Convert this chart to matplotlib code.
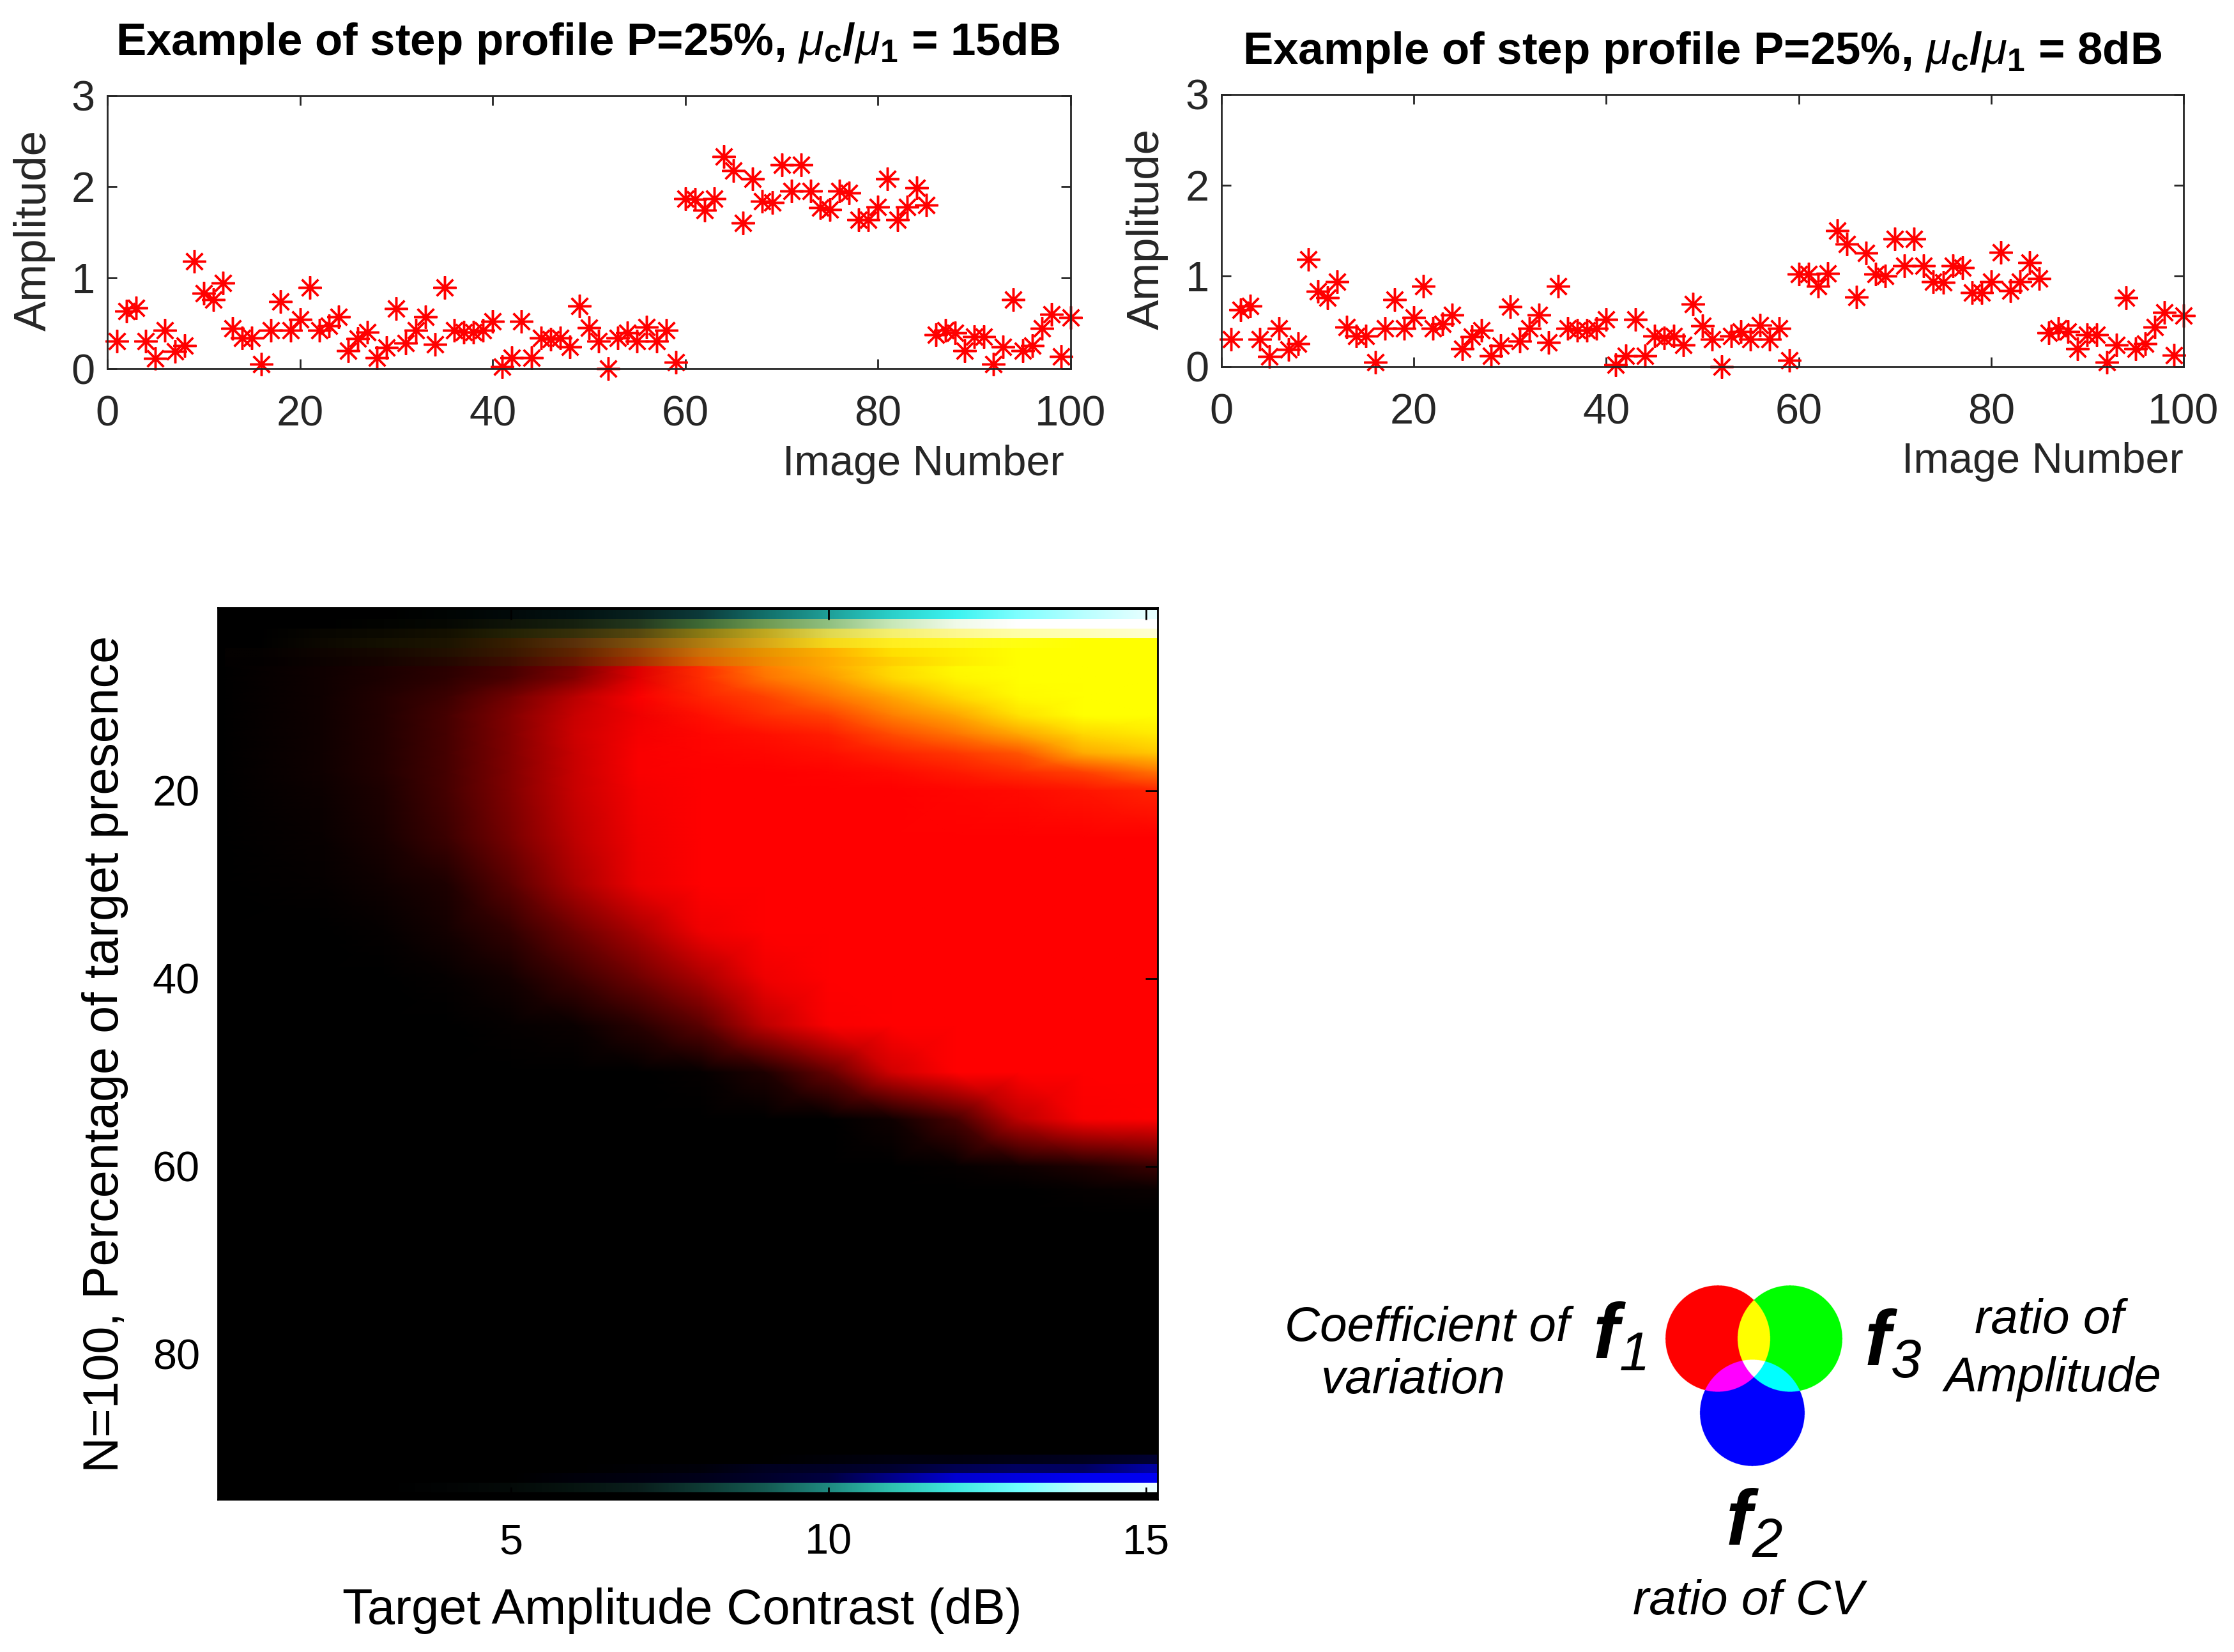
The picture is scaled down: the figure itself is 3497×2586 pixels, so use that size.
import numpy as np
import matplotlib
matplotlib.use('Agg')
import matplotlib.pyplot as plt
from matplotlib.colors import LinearSegmentedColormap, to_rgb

W, H = 3497, 2586
DARK = '#262626'

plt.rcParams['font.family'] = ['Liberation Sans', 'DejaVu Sans']
plt.rcParams['mathtext.fontset'] = 'custom'
plt.rcParams['mathtext.rm'] = 'Liberation Sans:bold'
plt.rcParams['mathtext.it'] = 'Liberation Sans:italic'
plt.rcParams['mathtext.bf'] = 'Liberation Sans:bold'
plt.rcParams['mathtext.bfit'] = 'Liberation Sans:italic:bold'
plt.rcParams['mathtext.tt'] = 'Liberation Sans:italic'

# step profiles, image 1 to 100
image_number = np.arange(1, 101)
amp_15db = [0.30, 0.63, 0.67, 0.30, 0.11, 0.42, 0.19, 0.25, 1.18, 0.83,
            0.76, 0.94, 0.44, 0.34, 0.34, 0.05, 0.42, 0.74, 0.42, 0.54,
            0.89, 0.42, 0.47, 0.57, 0.20, 0.33, 0.40, 0.12, 0.23, 0.66,
            0.28, 0.42, 0.57, 0.27, 0.89, 0.42, 0.40, 0.40, 0.42, 0.52,
            0.02, 0.12, 0.52, 0.12, 0.34, 0.32, 0.34, 0.24, 0.69, 0.45,
            0.30, 0.00, 0.34, 0.39, 0.30, 0.46, 0.30, 0.42, 0.07, 1.87,
            1.86, 1.74, 1.87, 2.33, 2.18, 1.60, 2.09, 1.84, 1.83, 2.24,
            1.95, 2.24, 1.95, 1.77, 1.75, 1.95, 1.93, 1.64, 1.64, 1.78,
            2.09, 1.64, 1.78, 1.99, 1.80, 0.37, 0.42, 0.39, 0.20, 0.35,
            0.35, 0.05, 0.24, 0.76, 0.20, 0.25, 0.44, 0.60, 0.13, 0.56]
amp_8db = [0.30, 0.63, 0.67, 0.30, 0.11, 0.42, 0.19, 0.25, 1.18, 0.83,
           0.76, 0.94, 0.44, 0.34, 0.34, 0.05, 0.42, 0.74, 0.42, 0.54,
           0.89, 0.42, 0.47, 0.57, 0.20, 0.33, 0.40, 0.12, 0.23, 0.66,
           0.28, 0.42, 0.57, 0.27, 0.89, 0.42, 0.40, 0.40, 0.42, 0.52,
           0.02, 0.12, 0.52, 0.12, 0.34, 0.32, 0.34, 0.24, 0.69, 0.45,
           0.30, 0.00, 0.34, 0.39, 0.30, 0.46, 0.30, 0.42, 0.07, 1.02,
           1.02, 0.89, 1.03, 1.50, 1.35, 0.77, 1.25, 1.02, 1.00, 1.41,
           1.11, 1.41, 1.11, 0.94, 0.93, 1.11, 1.09, 0.82, 0.82, 0.94,
           1.26, 0.84, 0.94, 1.15, 0.97, 0.37, 0.42, 0.39, 0.20, 0.35,
           0.35, 0.05, 0.24, 0.76, 0.20, 0.25, 0.44, 0.60, 0.13, 0.56]

# heat map body: red + green level (0-510) read at these contrasts and percentages
contrast_db = [0.39, 2, 3, 4, 5, 6, 7, 8, 9, 10, 11, 12, 13, 14, 15.18]
presence_pct = [6.75, 8, 10, 12, 14, 16, 18, 20, 25, 30, 35, 40, 45, 50, 55, 60, 62.5, 65]
level = [
    [0, 15, 28, 42, 70, 120, 220, 300, 380, 425, 475, 505, 510, 510, 510],
    [0, 15, 28, 45, 75, 130, 225, 300, 370, 410, 470, 500, 510, 510, 510],
    [0, 15, 35, 60, 115, 185, 250, 290, 320, 370, 420, 470, 505, 510, 510],
    [0, 15, 35, 70, 130, 200, 240, 270, 300, 320, 380, 420, 480, 510, 510],
    [0, 15, 35, 70, 130, 205, 245, 260, 270, 285, 330, 370, 420, 470, 490],
    [0, 15, 35, 70, 130, 200, 250, 258, 262, 270, 290, 310, 340, 425, 455],
    [0, 15, 35, 70, 130, 200, 250, 255, 255, 258, 265, 280, 300, 320, 370],
    [0, 12, 30, 70, 130, 200, 245, 255, 255, 255, 255, 260, 265, 275, 290],
    [0, 8, 25, 60, 120, 190, 240, 255, 255, 255, 255, 255, 255, 255, 255],
    [0, 5, 15, 30, 90, 170, 235, 255, 255, 255, 255, 255, 255, 255, 255],
    [0, 0, 5, 20, 50, 110, 170, 240, 255, 255, 255, 255, 255, 255, 255],
    [0, 0, 0, 5, 20, 60, 110, 170, 240, 255, 255, 255, 255, 255, 255],
    [0, 0, 0, 0, 5, 10, 40, 90, 190, 250, 255, 255, 255, 255, 255],
    [0, 0, 0, 0, 0, 0, 0, 5, 30, 100, 210, 255, 255, 255, 255],
    [0, 0, 0, 0, 0, 0, 0, 0, 0, 0, 15, 70, 190, 250, 255],
    [0, 0, 0, 0, 0, 0, 0, 0, 0, 0, 0, 5, 15, 30, 60],
    [0, 0, 0, 0, 0, 0, 0, 0, 0, 0, 0, 0, 0, 5, 10],
    [0, 0, 0, 0, 0, 0, 0, 0, 0, 0, 0, 0, 0, 0, 0],
]

# single rows at the edges of the map, one colour per dB from 1 to 15
row_1 = ['#000000', '#000000', '#000000', '#000503', '#020a0a', '#021212', '#08211f', '#0c3a3a',
         '#13706a', '#1f9f98', '#2bd0ca', '#3df3f0', '#80ffff', '#b8ffff', '#e6ffff']
row_2 = ['#000000', '#000000', '#030401', '#060803', '#0f1408', '#16200f', '#24381e', '#3f6a35',
         '#6f9a52', '#90c080', '#c8e8b8', '#f0fae8', '#ffffff', '#ffffff', '#ffffff']
row_3 = ['#000000', '#080600', '#0c0a00', '#141000', '#242205', '#37300a', '#56480f', '#8a7a14',
         '#c0a820', '#e0d850', '#f5f070', '#fdf890', '#ffffa8', '#ffffb8', '#ffffd0']
row_4 = ['#000000', '#0c0800', '#141000', '#1c1400', '#381e00', '#5a300a', '#80520c', '#b07c10',
         '#d8a818', '#f6d81a', '#ffee20', '#fff820', '#ffff10', '#ffff00', '#ffff00']
row_5 = ['#040100', '#0e0400', '#160800', '#221000', '#3a1800', '#602400', '#984004', '#cc7008',
         '#e89400', '#ffb000', '#ffe000', '#fff000', '#ffff00', '#ffff00', '#ffff00']
row_6 = ['#030000', '#0c0200', '#160400', '#240800', '#3e0e00', '#681800', '#a43000', '#dc6000',
         '#f08800', '#ffa800', '#ffd000', '#ffec00', '#ffff00', '#ffff00', '#ffff00']
row_91 = ['#000000', '#000000', '#000000', '#000000', '#000000', '#000000', '#000000', '#000000',
          '#000000', '#000008', '#000010', '#000010', '#000018', '#000020', '#000030']
row_92 = ['#000000', '#000000', '#000000', '#000000', '#000000', '#000000', '#000005', '#00000a',
          '#000020', '#000025', '#000030', '#000050', '#000060', '#000060', '#0000a0']
row_93 = ['#000000', '#000000', '#000000', '#000000', '#000000', '#00000a', '#000010', '#00001a',
          '#00002a', '#000040', '#00008a', '#0000d0', '#0000e0', '#0000f0', '#0000f0']
row_94 = ['#000000', '#000000', '#000000', '#020404', '#040a08', '#061410', '#0a1e1c', '#0e3a34',
          '#155a52', '#1f8a80', '#2fc2b0', '#40e8e0', '#70ffff', '#c0ffff', '#ecffff']
edge_rows = {1: row_1, 2: row_2, 3: row_3, 4: row_4, 5: row_5, 6: row_6,
             91: row_91, 92: row_92, 93: row_93, 94: row_94}


def px_rect(left, top, right, bottom):
    return [left / W, 1 - bottom / H, (right - left) / W, (bottom - top) / H]


def px_text(x, y, s, **kw):
    kw.setdefault('ha', 'center')
    kw.setdefault('va', 'center')
    fig.text(x / W, 1 - y / H, s, **kw)


fig = plt.figure(figsize=(W / 100, H / 100), dpi=100, facecolor='white')

# top panels
panels = [(amp_15db, (168, 150, 1676, 577), r'Example of step profile P=25%, $\mu_{\mathbf{c}}/\mu_{\mathbf{1}}$ = 15dB', (920, 68), (1445, 727), 114),
          (amp_8db, (1912, 148, 3418, 574), r'Example of step profile P=25%, $\mu_{\mathbf{c}}/\mu_{\mathbf{1}}$ = 8dB', (2665, 82), (3197, 723), 116)]
for amp, box, title, title_xy, xlabel_xy, ylabel_off in panels:
    ax = fig.add_axes(px_rect(*box))
    ax.plot(image_number, amp, linestyle='none', marker=(8, 2, 0), color='red',
            markersize=26, markeredgewidth=2.5, clip_on=False)
    ax.set_xlim(0, 100)
    ax.set_ylim(0, 3)
    ax.set_xticks([0, 20, 40, 60, 80, 100])
    ax.set_yticks([0, 1, 2, 3])
    ax.tick_params(direction='in', top=True, right=True, length=11, width=2, color=DARK,
                   labelsize=48, labelcolor=DARK, pad=14)
    ax.tick_params(axis='x', pad=30)
    for side in ax.spines.values():
        side.set_linewidth(2)
        side.set_color(DARK)
    px_text(title_xy[0], title_xy[1], title, fontsize=51, fontweight='bold', color='black')
    px_text(xlabel_xy[0], xlabel_xy[1], 'Image Number', fontsize=48, color=DARK)
    px_text(box[0] - ylabel_off, (box[1] + box[3]) / 2 - 3, 'Amplitude', fontsize=51, color=DARK, rotation=90)

# heat map
ax = fig.add_axes(px_rect(341, 951, 1812, 2347))
ax.set_facecolor('black')
cmap = LinearSegmentedColormap.from_list('black_red_yellow', ['#000000', '#ff0000', '#ffff00'], N=512)
ax.pcolormesh(contrast_db, presence_pct, np.array(level), shading='gouraud', cmap=cmap, vmin=0, vmax=510)
for row, colours in edge_rows.items():
    rgb = np.array([[to_rgb(c) for c in colours]])
    ax.imshow(rgb, extent=(0.5, 15.5, row + 0.75, row - 0.25), aspect='auto', interpolation='bilinear')
ax.set_xlim(0.39, 15.18)
ax.set_ylim(95.5, 0.47)
ax.set_xticks([5, 10, 15])
ax.set_yticks([20, 40, 60, 80])
ax.tick_params(direction='in', top=True, right=True, length=14, width=2, color='black',
               labelsize=48, labelcolor='black', pad=20)
ax.tick_params(axis='x', pad=27)
for side in ax.spines.values():
    side.set_linewidth(2)
    side.set_color('black')
px_text(1068, 2522, 'Target Amplitude Contrast (dB)', fontsize=56)
px_text(165, 1650, 'N=100, Percentage of target presence', fontsize=55.5, rotation=90)

# colour key: three overlapping discs mixed additively
key_box = (2590, 1990, 2900, 2310)
disc_x = [2689, 2802, 2743]
disc_y = [2096, 2096, 2212]
disc_rx = [82, 82, 82]
disc_ry = [83, 83, 83]
disc_rgb = [(1, 0, 0), (0, 1, 0), (0, 0, 1)]
key_ax = fig.add_axes(px_rect(*key_box))
gx, gy = np.meshgrid(np.linspace(key_box[0], key_box[2], 1240), np.linspace(key_box[1], key_box[3], 1280))
mix = np.zeros(gx.shape + (3,))
covered = np.zeros(gx.shape, dtype=bool)
for cx, cy, rx, ry, rgb in zip(disc_x, disc_y, disc_rx, disc_ry, disc_rgb):
    inside = ((gx - cx) / rx) ** 2 + ((gy - cy) / ry) ** 2 <= 1
    mix[inside] += rgb
    covered |= inside
mix[~covered] = 1
key_ax.imshow(mix, aspect='auto', interpolation='antialiased')
key_ax.axis('off')

px_text(2234, 2080, 'Coefficient of', fontsize=55, style='italic')
px_text(2212, 2161, 'variation', fontsize=55, style='italic')
px_text(3208, 2068, 'ratio of', fontsize=55, style='italic')
px_text(3214, 2158, 'Amplitude', fontsize=55, style='italic')
px_text(2737, 2508, 'ratio of CV', fontsize=55, style='italic')
for fx, fy, sub in [(2535, 2095, '1'), (2963, 2105, '3'), (2746, 2386, '2')]:
    px_text(fx, fy, r'$\mathbfit{f}_{\mathtt{%s}}$' % sub, fontsize=88)

fig.savefig('out.png', dpi=100)
